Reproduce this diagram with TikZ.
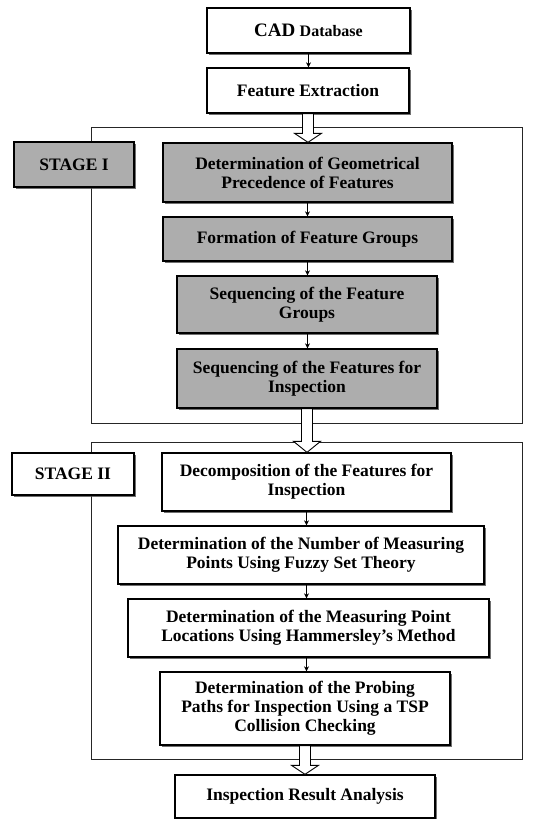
\documentclass[tikz,border=0pt]{standalone}
\usepackage{fontspec}
\setmainfont{Liberation Serif}
\usetikzlibrary{arrows.meta,shadows,calc}
\tikzset{
  box/.style={draw=black, line width=1.3pt, fill=white, align=center, inner sep=1pt,
    font=\fontsize{17.5}{19}\selectfont\bfseries,
    drop shadow={shadow xshift=1.6pt, shadow yshift=-1.6pt, fill=black!70, opacity=0.8}},
  graybox/.style={box, fill=black!32},
  frame/.style={draw=black!85, line width=0.9pt},
  link/.style={draw=black, line width=0.8pt, -{Stealth[length=5pt,width=5pt]}},
  hollow/.style={draw=black, line width=0.9pt, fill=white}
}
\newcommand{\hollowarrow}[3]{%
  \path[hollow] let \p1=(#1), \p2=(#2) in
    (\x1-5.5pt,\y1) -- (\x1-5.5pt,\y2+#3) -- (\x1-13.5pt,\y2+#3) -- (\x1,\y2)
    -- (\x1+13.5pt,\y2+#3) -- (\x1+5.5pt,\y2+#3) -- (\x1+5.5pt,\y1) -- cycle;}
\begin{document}
\begin{tikzpicture}[x=1pt,y=-1pt]
\useasboundingbox (0,0) rectangle (533,819);
% stage frames
\draw[frame] (91,127) rectangle (522,423);
\draw[frame] (91,442) rectangle (522,759);

\node[box, minimum width=203pt, minimum height=45pt] (cad) at (308.5,30.5)
  {{\fontsize{19}{19}\selectfont CAD} {\fontsize{16}{19}\selectfont Database}};
\node[box, minimum width=202pt, minimum height=45pt] (fe) at (308,90.5) {Feature Extraction};

\node[graybox, minimum width=120pt, minimum height=45pt] (s1) at (74,164.5) {STAGE I};
\node[graybox, minimum width=289pt, minimum height=59pt] (g1) at (307.5,172.5)
  {Determination of Geometrical\\Precedence of Features};
\node[graybox, minimum width=289pt, minimum height=44pt] (g2) at (307.5,239) {Formation of Feature Groups};
\node[graybox, minimum width=260pt, minimum height=57pt] (g3) at (307,304.5)
  {Sequencing of the Feature\\Groups};
\node[graybox, minimum width=260pt, minimum height=59pt] (g4) at (307,378.5)
  {Sequencing of the Features for\\Inspection};

\node[box, minimum width=122pt, minimum height=42pt] (s2) at (73,474) {STAGE II};
\node[box, minimum width=289pt, minimum height=58pt] (d1) at (306.5,482)
  {Decomposition of the Features for\\Inspection};
\node[box, minimum width=366pt, minimum height=58pt] (d2) at (301,555)
  {Determination of the Number of Measuring\\Points Using Fuzzy Set Theory};
\node[box, minimum width=361pt, minimum height=58pt] (d3) at (308.5,628)
  {Determination of the Measuring Point\\Locations Using Hammersley's Method};
\node[box, minimum width=290pt, minimum height=73pt] (d4) at (305,708.5)
  {Determination of the Probing\\Paths for Inspection Using a TSP\\Collision Checking};
\node[box, minimum width=260pt, minimum height=43pt] (res) at (305,796.5) {Inspection Result Analysis};

% small links
\draw[link] (cad.south) -- (cad.south |- fe.north);
\draw[link] (g1.south) -- (g1.south |- g2.north);
\draw[link] (g1.south |- g2.south) -- (g1.south |- g3.north);
\draw[link] (g1.south |- g3.south) -- (g1.south |- g4.north);
\draw[link] (d1.south) -- (d1.south |- d2.north);
\draw[link] (d1.south |- d2.south) -- (d1.south |- d3.north);
\draw[link] (d1.south |- d3.south) -- (d1.south |- d4.north);

% hollow arrows
\hollowarrow{fe.south}{fe.south |- g1.north}{9pt}
\hollowarrow{g4.south}{g4.south |- d1.north}{11pt}
\hollowarrow{d4.south}{d4.south |- res.north}{9pt}
\end{tikzpicture}
\end{document}
